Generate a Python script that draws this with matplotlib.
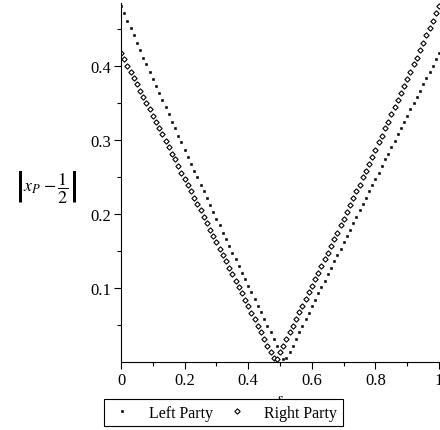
import numpy as np
import matplotlib
matplotlib.use('Agg')
import matplotlib.pyplot as plt
from matplotlib.ticker import FixedLocator, FixedFormatter

plt.rcParams['font.family'] = ['Liberation Serif', 'DejaVu Serif']
plt.rcParams['mathtext.fontset'] = 'stix'

s = [k / 100 for k in range(101)]

# |x_P - 1/2| for the left party
left_party = [
    0.482, 0.472, 0.462, 0.452, 0.442, 0.432, 0.422, 0.412, 0.403, 0.393,
    0.383, 0.374, 0.364, 0.354, 0.345, 0.335, 0.325, 0.316, 0.306, 0.297,
    0.287, 0.278, 0.268, 0.259, 0.250, 0.240, 0.231, 0.222, 0.212, 0.203,
    0.194, 0.185, 0.175, 0.166, 0.157, 0.148, 0.139, 0.130, 0.121, 0.112,
    0.103, 0.094, 0.085, 0.076, 0.067, 0.058, 0.049, 0.040, 0.031, 0.022,
    0.013, 0.004, 0.005, 0.014, 0.022, 0.031, 0.040, 0.049, 0.058, 0.066,
    0.075, 0.084, 0.093, 0.101, 0.110, 0.119, 0.127, 0.136, 0.145, 0.153,
    0.162, 0.171, 0.179, 0.188, 0.196, 0.205, 0.214, 0.222, 0.231, 0.239,
    0.248, 0.256, 0.265, 0.274, 0.282, 0.291, 0.299, 0.308, 0.316, 0.325,
    0.333, 0.342, 0.350, 0.359, 0.367, 0.376, 0.384, 0.393, 0.401, 0.410,
    0.418]

# |x_P - 1/2| for the right party
right_party = [
    0.418, 0.410, 0.401, 0.393, 0.384, 0.376, 0.367, 0.359, 0.350, 0.342,
    0.333, 0.325, 0.316, 0.308, 0.299, 0.291, 0.282, 0.274, 0.265, 0.256,
    0.248, 0.239, 0.231, 0.222, 0.214, 0.205, 0.196, 0.188, 0.179, 0.171,
    0.162, 0.153, 0.145, 0.136, 0.127, 0.119, 0.110, 0.101, 0.093, 0.084,
    0.075, 0.066, 0.058, 0.049, 0.040, 0.031, 0.022, 0.014, 0.005, 0.004,
    0.013, 0.022, 0.031, 0.040, 0.049, 0.058, 0.067, 0.076, 0.085, 0.094,
    0.103, 0.112, 0.121, 0.130, 0.139, 0.148, 0.157, 0.166, 0.175, 0.185,
    0.194, 0.203, 0.212, 0.222, 0.231, 0.240, 0.250, 0.259, 0.268, 0.278,
    0.287, 0.297, 0.306, 0.316, 0.325, 0.335, 0.345, 0.354, 0.364, 0.374,
    0.383, 0.393, 0.403, 0.412, 0.422, 0.432, 0.442, 0.452, 0.462, 0.472,
    0.482]

xticks = [0, 0.2, 0.4, 0.6, 0.8, 1]
xticklabels = ['0', '0.2', '0.4', '0.6', '0.8', '1']
yticks = [0.1, 0.2, 0.3, 0.4]
yticklabels = ['0.1', '0.2', '0.3', '0.4']

fig = plt.figure(figsize=(4.4, 4.31), dpi=100)
ax = fig.add_axes([0.275, 0.158, 0.723, 0.833])

ax.plot(s, left_party, 's', color='black', markersize=2.1, markeredgewidth=0.4,
        label='Left Party')
ax.plot(s, right_party, 'D', markerfacecolor='white', markeredgecolor='black',
        markersize=2.7, markeredgewidth=0.8, label='Right Party')

ax.set_xlim(0, 1)
ax.set_ylim(0, 0.486)
ax.spines['top'].set_visible(False)
ax.spines['right'].set_visible(False)
ax.spines['left'].set_linewidth(0.8)
ax.spines['bottom'].set_linewidth(0.8)

ax.xaxis.set_major_locator(FixedLocator(xticks))
ax.xaxis.set_major_formatter(FixedFormatter(xticklabels))
ax.xaxis.set_minor_locator(FixedLocator([0.1, 0.3, 0.5, 0.7, 0.9]))
ax.yaxis.set_major_locator(FixedLocator(yticks))
ax.yaxis.set_major_formatter(FixedFormatter(yticklabels))
ax.yaxis.set_minor_locator(FixedLocator([0.05, 0.15, 0.25, 0.35, 0.45]))
ax.tick_params(which='major', length=5, width=0.8, labelsize=12, pad=2)
ax.tick_params(which='minor', length=3, width=0.8)

ax.set_xlabel('$s$', fontsize=11, labelpad=3)
ax.set_ylabel(r'$\left|x_P - \dfrac{1}{2}\right|$', rotation=0, fontsize=13,
              ha='center', va='center')
ax.yaxis.set_label_coords(-0.236, 0.49)

leg = fig.legend(loc='lower left', bbox_to_anchor=(0.236, 0.009), ncol=2,
                 fontsize=11.5, handlelength=1.6, handletextpad=0.9,
                 columnspacing=0.7, borderpad=0.35, borderaxespad=0,
                 fancybox=False, framealpha=1, edgecolor='black')
leg.get_frame().set_linewidth(0.8)

fig.savefig('out.png', dpi=100)
